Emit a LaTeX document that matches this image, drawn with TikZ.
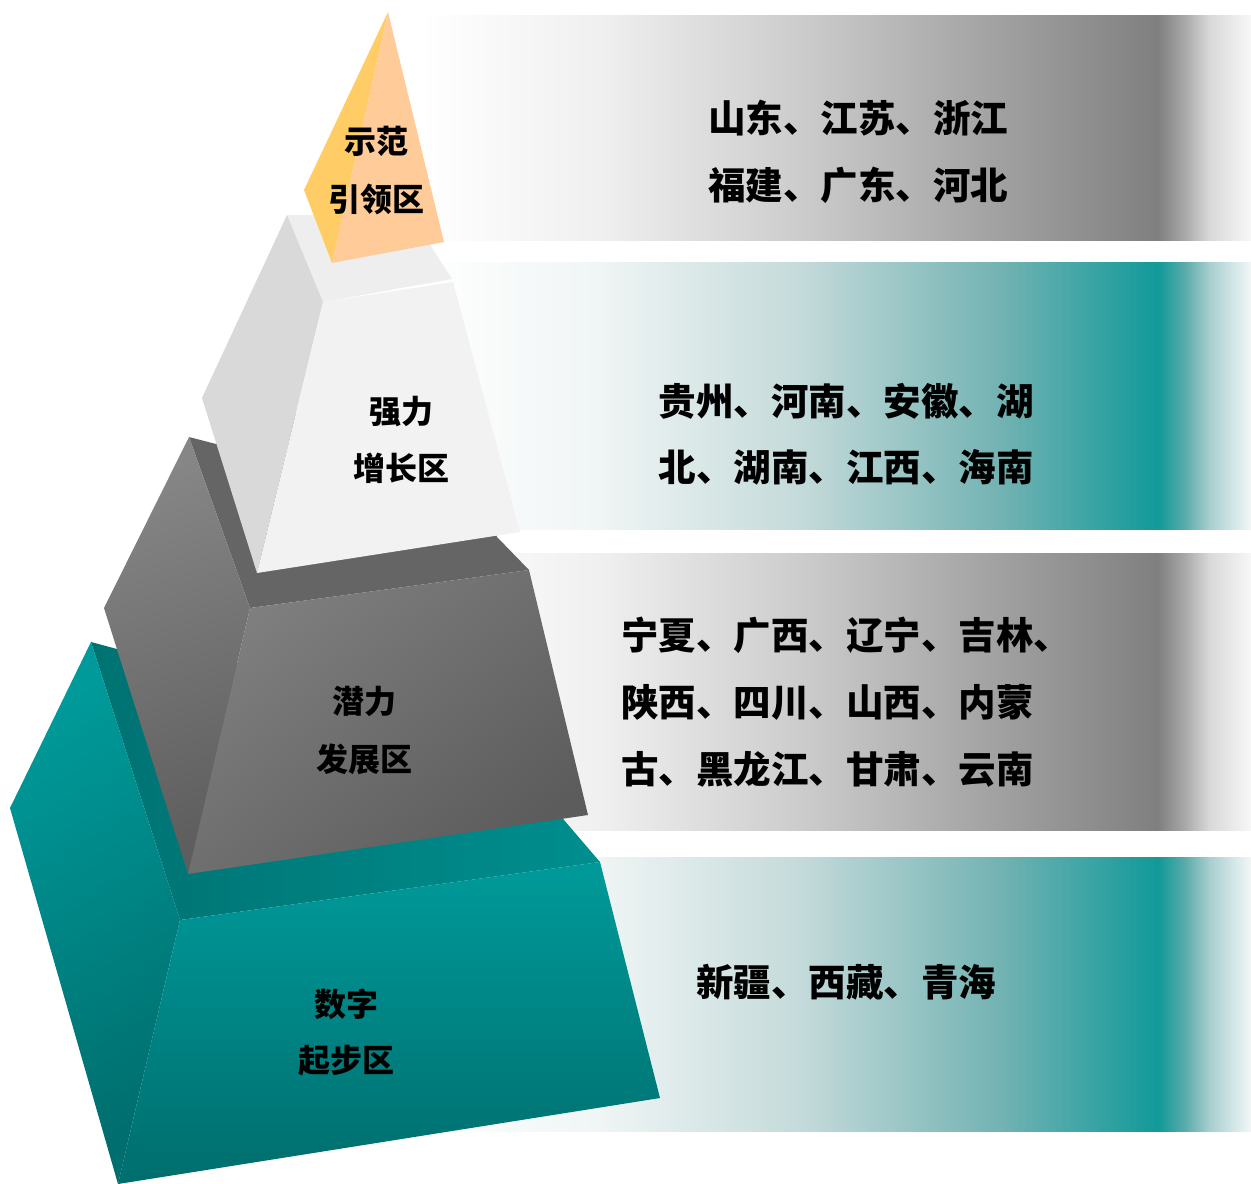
\documentclass[tikz,border=0pt]{standalone}
\usepackage{fontspec}
\newfontfamily\cjk{Noto Sans CJK SC}
\definecolor{orangeF}{HTML}{FFCC99}
\definecolor{yellowF}{HTML}{FFCC66}
\definecolor{ltTop}{HTML}{EEEEEE}
\definecolor{ltLeft}{HTML}{D9D9D9}
\definecolor{ltFront}{HTML}{F2F2F2}
\definecolor{dkTop}{HTML}{656565}
\definecolor{dkLa}{HTML}{868686}
\definecolor{dkLb}{HTML}{5E5E5E}
\definecolor{dkFa}{HTML}{7F7F7F}
\definecolor{dkFb}{HTML}{5C5C5C}
\definecolor{tlTa}{HTML}{007272}
\definecolor{tlTb}{HTML}{008E8E}
\definecolor{tlLa}{HTML}{009A9A}
\definecolor{tlLb}{HTML}{006E6E}
\definecolor{tlFa}{HTML}{009A9A}
\definecolor{tlFb}{HTML}{006D6D}
\pgfdeclarehorizontalshading{grayband}{100bp}{rgb(0bp)=(1,1,1); rgb(25bp)=(1,1,1); rgb(35.8bp)=(.94,.94,.94); rgb(47.9bp)=(.80,.80,.80); rgb(59.9bp)=(.63,.63,.63); rgb(69.4bp)=(.5,.5,.5); rgb(71bp)=(.66,.66,.66); rgb(72.5bp)=(.85,.85,.85); rgb(75bp)=(.97,.97,.97); rgb(100bp)=(.97,.97,.97)}
\pgfdeclarehorizontalshading{tealband}{100bp}{rgb(0bp)=(1,1,1); rgb(25bp)=(1,1,1); rgb(35.8bp)=(.94,.96,.96); rgb(47.9bp)=(.77,.855,.855); rgb(59.9bp)=(.45,.70,.70); rgb(69.4bp)=(.07,.6,.6); rgb(71bp)=(.35,.67,.67); rgb(72.5bp)=(.66,.81,.81); rgb(75bp)=(.95,.97,.97); rgb(100bp)=(.95,.97,.97)}
\begin{document}
\begin{tikzpicture}[x=1pt,y=-1pt,
  lbl/.style={font=\cjk\bfseries\fontsize{32}{32}\selectfont, inner sep=0pt},
  txt/.style={font=\cjk\bfseries\fontsize{37.5}{37.5}\selectfont, inner sep=0pt},
  band/.style={shade, shading=#1}]
\useasboundingbox (0,0) rectangle (1251,1184);
\fill[white] (0,0) rectangle (1251,1184);
% bands
\path[band=grayband] (420,15) rectangle (1251,240);
\path[band=tealband] (420,262) rectangle (1251,529);
\path[band=grayband] (420,553) rectangle (1251,830);
\path[band=tealband] (420,857) rectangle (1251,1131);
% teal base tier
\path[left color=tlTa, right color=tlTb] (91,642) -- (117,649) -- (140,650) -- (500,700) -- (564,820) -- (600,862) -- (180,920) -- cycle;
\path[top color=tlLa, bottom color=tlLb, shading angle=30] (91,642) -- (180,920) -- (118,1184) -- (10,808) -- cycle;
\path[top color=tlFa, bottom color=tlFb] (180,920) -- (600,862) -- (660,1098) -- (118,1184) -- cycle;
% dark gray tier
\fill[dkTop] (189,437) -- (216,444) -- (240,420) -- (440,400) -- (497,537) -- (529,570) -- (250,608) -- cycle;
\path[left color=dkLa, right color=dkLb, shading angle=20] (189,437) -- (250,608) -- (188,874) -- (104,608) -- cycle;
\path[top color=dkFa, bottom color=dkFb, shading angle=40] (250,608) -- (529,570) -- (588,815) -- (188,874) -- cycle;
% light tier
\fill[ltTop] (287,215) -- (410,215) -- (430,245) -- (452,279) -- (323,302) -- cycle;
\fill[ltLeft] (287,215) -- (323,302) -- (257,573) -- (202,398) -- cycle;
\fill[ltFront] (323,302) -- (453,282) -- (520,532) -- (257,573) -- cycle;
\draw[white, line width=1.2pt] (393,290) -- (452,281);
% orange top
\fill[yellowF] (388,12) -- (304,190) -- (332,263) -- cycle;
\fill[orangeF] (388,12) -- (332,263) -- (444,242) -- cycle;
% labels
\node[lbl] (l1a) at (376,141) {示范};
\node[lbl] (l1b) at (376,199) {引领区};
\node[lbl] (l2a) at (401,412) {强力};
\node[lbl] (l2b) at (401,468) {增长区};
\node[lbl] (l3a) at (364,701) {潜力};
\node[lbl] (l3b) at (364,759) {发展区};
\node[lbl] (l4a) at (346,1004) {数字};
\node[lbl] (l4b) at (346,1061) {起步区};
% band texts
\node[txt] (t1a) at (858,118) {山东、江苏、浙江};
\node[txt] (t1b) at (858,185) {福建、广东、河北};
\node[txt] (t2a) at (846,401) {贵州、河南、安徽、湖};
\node[txt] (t2b) at (846,467) {北、湖南、江西、海南};
\node[txt, anchor=west] (t3a) at (621,635) {宁夏、广西、辽宁、吉林、};
\node[txt, anchor=west] (t3b) at (621,702) {陕西、四川、山西、内蒙};
\node[txt, anchor=west] (t3c) at (621,769) {古、黑龙江、甘肃、云南};
\node[txt] (t4a) at (846,982) {新疆、西藏、青海};
\end{tikzpicture}
\end{document}
